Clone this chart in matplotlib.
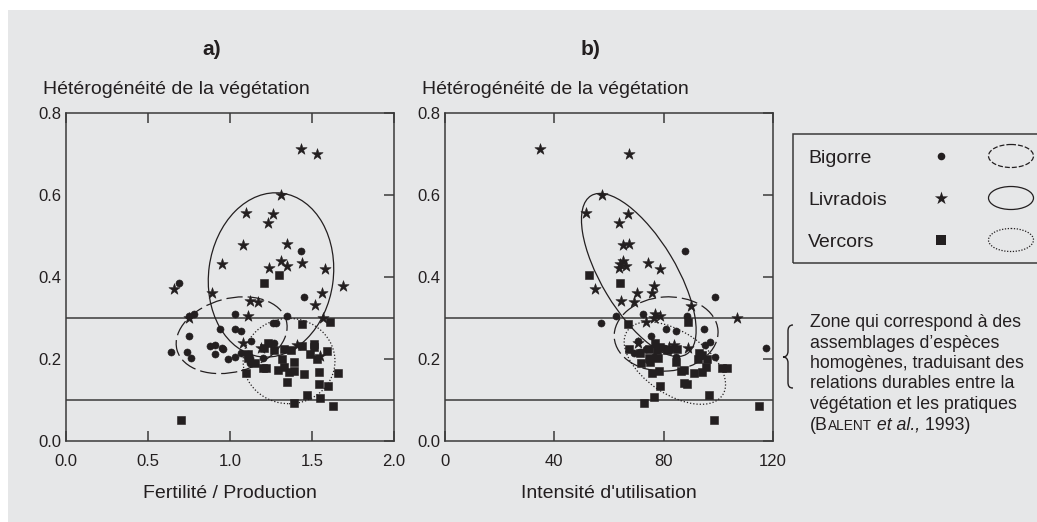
import matplotlib
matplotlib.use("Agg")
import matplotlib.pyplot as plt
from matplotlib.patches import Ellipse, Rectangle, PathPatch
from matplotlib.path import Path

plt.rcParams['font.family'] = ['Liberation Sans', 'DejaVu Sans']

W, H = 1037, 522
INK = '#231f20'
GRAY = '#e6e7e8'

# ---- panel a : Fertilité / Production ----
bx_a = [0.69, 1.43, 1.45, 0.78, 0.75, 1.03, 1.35, 0.94, 1.03, 1.07, 1.26, 1.28, 0.75, 1.13, 1.27,
        0.88, 0.91, 0.95, 0.96, 0.64, 0.74, 0.91, 1.07, 0.76, 0.99, 1.03, 1.11, 1.12, 1.20, 1.12]
by_a = [0.386, 0.464, 0.352, 0.310, 0.305, 0.310, 0.305, 0.274, 0.274, 0.268, 0.288, 0.288, 0.257, 0.244, 0.240,
        0.231, 0.233, 0.226, 0.225, 0.216, 0.218, 0.213, 0.215, 0.203, 0.199, 0.205, 0.212, 0.202, 0.203, 0.191]
lx_a = [1.43, 1.53, 1.31, 1.10, 1.26, 1.23, 1.08, 1.35, 0.95, 1.31, 1.44, 1.24, 1.35, 1.58,
        1.69, 0.66, 0.89, 1.56, 1.12, 1.17, 1.52, 1.11, 0.75, 1.57, 1.08, 1.19, 1.41, 1.55]
ly_a = [0.713, 0.699, 0.601, 0.556, 0.553, 0.531, 0.477, 0.481, 0.432, 0.439, 0.435, 0.421, 0.428, 0.420,
        0.378, 0.370, 0.362, 0.362, 0.342, 0.339, 0.331, 0.305, 0.301, 0.301, 0.238, 0.228, 0.235, 0.207]
vx_a = [1.30, 1.21, 1.61, 1.44, 1.23, 1.21, 1.27, 1.33, 1.37, 1.44, 1.51, 1.51, 1.59, 1.49, 1.53, 1.32, 1.11,
        1.11, 1.15, 1.39, 1.20, 1.22, 1.29, 1.33, 1.36, 1.39, 1.45, 1.54, 1.66, 1.10, 1.35, 1.54, 1.60, 1.47,
        1.55, 1.39, 1.63, 0.70]
vy_a = [0.404, 0.386, 0.291, 0.285, 0.240, 0.226, 0.223, 0.224, 0.223, 0.231, 0.237, 0.230, 0.220, 0.213, 0.199,
        0.200, 0.213, 0.203, 0.191, 0.192, 0.178, 0.178, 0.174, 0.180, 0.169, 0.170, 0.163, 0.169, 0.167, 0.166,
        0.143, 0.138, 0.134, 0.113, 0.106, 0.092, 0.086, 0.052]

# ---- panel b : Intensité d'utilisation ----
bx_b = [87.9, 98.8, 57.0, 62.6, 72.6, 88.6, 80.8, 84.5, 94.9, 75.3, 96.8, 95.2, 70.7, 73.6, 80.0, 82.4,
        84.4, 98.9, 117.6, 71.4, 75.3, 76.3, 69.2, 77.5, 74.8]
by_b = [0.464, 0.352, 0.288, 0.305, 0.310, 0.305, 0.274, 0.268, 0.274, 0.257, 0.241, 0.234, 0.244, 0.225,
        0.228, 0.222, 0.205, 0.204, 0.226, 0.216, 0.199, 0.205, 0.215, 0.230, 0.195]
lx_b = [34.6, 67.2, 57.4, 51.6, 67.0, 63.6, 65.3, 67.3, 74.1, 65.1, 64.1, 66.3, 63.7, 78.8, 54.7, 70.2,
        76.6, 75.7, 64.3, 69.0, 90.0, 106.8, 76.9, 78.5, 76.6, 73.6, 70.5, 83.6, 88.8, 81.9]
ly_b = [0.713, 0.699, 0.601, 0.556, 0.553, 0.531, 0.477, 0.481, 0.435, 0.439, 0.431, 0.428, 0.421, 0.420,
        0.370, 0.362, 0.378, 0.362, 0.342, 0.339, 0.329, 0.301, 0.310, 0.305, 0.299, 0.291, 0.238, 0.235,
        0.227, 0.230]
vx_b = [52.7, 63.9, 67.0, 88.8, 67.3, 71.2, 74.6, 76.9, 77.5, 78.8, 81.2, 84.9, 92.8, 94.0, 96.0, 92.4,
        74.8, 77.8, 71.8, 74.9, 84.6, 95.6, 101.2, 103.2, 75.6, 78.3, 86.4, 87.5, 91.0, 94.0, 87.4, 88.5,
        78.5, 96.5, 76.6, 72.8, 114.8, 98.3]
vy_b = [0.404, 0.386, 0.285, 0.291, 0.224, 0.215, 0.224, 0.240, 0.223, 0.230, 0.223, 0.224, 0.215, 0.209,
        0.200, 0.200, 0.203, 0.203, 0.191, 0.193, 0.192, 0.180, 0.178, 0.178, 0.166, 0.171, 0.170, 0.174,
        0.165, 0.169, 0.142, 0.138, 0.134, 0.113, 0.107, 0.092, 0.086, 0.052]

# ellipses: centre (data), width / height (axes fraction), angle (deg)
ell_a = {'Bigorre': (1.01, 0.258, 0.345, 0.224, 15),
         'Livradois': (1.25, 0.405, 0.38, 0.503, -7.7),
         'Vercors': (1.36, 0.195, 0.28, 0.26, 0)}
ell_b = {'Bigorre': (80.9, 0.261, 0.317, 0.226, 4),
         'Livradois': (70.9, 0.405, 0.564, 0.227, -59),
         'Vercors': (84.1, 0.190, 0.35, 0.19, -34)}

sites = ['Bigorre', 'Livradois', 'Vercors']
markers = {'Bigorre': ('o', 26), 'Livradois': ('*', 72), 'Vercors': ('s', 26)}
ell_style = {'Bigorre': (0, (13, 4)), 'Livradois': '-', 'Vercors': (0, (1, 1.6))}
ref_lines = [0.1, 0.3]

note = ["Zone qui correspond à des", "assemblages d\u2019espèces", "homogènes, traduisant des",
        "relations durables entre la", "végétation et les pratiques"]

fig = plt.figure(figsize=(W / 100, H / 100), dpi=100, facecolor='white')
fig.patches.append(Rectangle((8 / W, 0), 1, 1 - 10 / H, transform=fig.transFigure,
                             facecolor=GRAY, edgecolor='none', zorder=-10))


def fx(px):
    return px / W


def fy(py):
    return 1 - py / H


def make_panel(left, xlim, xticks, xticklabels, corner, data, ells, tag, xlabel):
    ax = fig.add_axes([fx(left), fy(441), 328 / W, 328 / H])
    ax.set_facecolor('none')
    ax.set_xlim(*xlim)
    ax.set_ylim(0, 0.8)
    for s in ax.spines.values():
        s.set_color('#3a3a3a')
        s.set_linewidth(1.1)
    ax.set_xticks(xticks)
    ax.set_xticklabels(xticklabels)
    ax.set_yticks([0, 0.2, 0.4, 0.6, 0.8])
    ax.set_yticklabels(['0.0', '0.2', '0.4', '0.6', '0.8'])
    ax.tick_params(which='major', direction='in', top=True, right=True, left=False,
                   length=7, width=1.1, color='#3a3a3a', labelsize=12, labelcolor=INK)
    ax.tick_params(axis='x', which='major', pad=9)
    ax.tick_params(axis='y', which='major', pad=3)
    # thick corner ticks at the origin
    ax.set_xticks([corner[0]], minor=True)
    ax.set_yticks([0], minor=True)
    ax.tick_params(which='minor', direction='in', length=9, width=2.4, color=INK,
                   bottom=True, top=False, left=(corner[1] == 'left'), right=(corner[1] == 'right'))

    for yv in ref_lines:
        ax.axhline(yv, color='#3a3a3a', lw=1.1, zorder=1)

    for site in sites:
        xs, ys = data[site]
        m, s = markers[site]
        ax.scatter(xs, ys, marker=m, s=s, color=INK, edgecolors=INK, linewidths=0.4,
                   zorder=3, clip_on=False)
        cx, cy, w, h, ang = ells[site]
        x0, x1 = ax.get_xlim()
        ex = (cx - x0) / (x1 - x0)
        ey = cy / 0.8
        ax.add_patch(Ellipse((ex, ey), w, h, angle=ang, transform=ax.transAxes, fill=False,
                             edgecolor=INK, lw=0.9, linestyle=ell_style[site], zorder=2))

    ax.text(0.445, 1 + 58 / 328, tag, transform=ax.transAxes, ha='center', va='baseline',
            fontsize=15, fontweight='bold', color=INK)
    ax.text(-23 / 328, 1 + 19 / 328, 'Hétérogénéité de la végétation', transform=ax.transAxes,
            ha='left', va='baseline', fontsize=14, color=INK)
    ax.text(0.5, -52 / 328, xlabel, transform=ax.transAxes, ha='center', va='center',
            fontsize=14, color=INK)
    return ax


data_a = {'Bigorre': (bx_a, by_a), 'Livradois': (lx_a, ly_a), 'Vercors': (vx_a, vy_a)}
data_b = {'Bigorre': (bx_b, by_b), 'Livradois': (lx_b, ly_b), 'Vercors': (vx_b, vy_b)}

make_panel(66, (0, 2.0), [0, 0.5, 1.0, 1.5, 2.0], ['0.0', '0.5', '1.0', '1.5', '2.0'],
           (0, 'left'), data_a, ell_a, 'a)', 'Fertilité / Production')
make_panel(445, (0, 120), [0, 40, 80, 120], ['0', '40', '80', '120'],
           (120, 'right'), data_b, ell_b, 'b)', "Intensité d'utilisation")

# ---- legend box ----
fig.patches.append(Rectangle((fx(793), fy(263)), fx(260), (263 - 134) / H, transform=fig.transFigure,
                             facecolor='none', edgecolor='#3a3a3a', lw=1.1))
leg_base = [163, 205, 247]
leg_ms = {'Bigorre': 30, 'Livradois': 100, 'Vercors': 50}
lax = fig.add_axes([0, 0, 1, 1], facecolor='none')
lax.set_xlim(0, W)
lax.set_ylim(H, 0)
lax.axis('off')
for site, yb in zip(sites, leg_base):
    fig.text(fx(808), fy(yb), site, ha='left', va='baseline', fontsize=14, color=INK)
    lax.scatter([941], [yb - 7], marker=markers[site][0], s=leg_ms[site], color=INK, linewidths=0)
    lax.add_patch(Ellipse((1011, yb - 7), 45, 23, fill=False, edgecolor=INK, lw=0.9,
                          linestyle=(0, (4, 1.6)) if site == 'Bigorre' else
                          ((0, (1, 1.3)) if site == 'Vercors' else '-')))

# ---- brace ----
verts = [(793, 325), (789, 325), (788, 328), (788, 331), (788, 351),
         (788, 355), (786, 357), (783, 357),
         (786, 357), (788, 359), (788, 363), (788, 382),
         (788, 386), (789, 388), (793, 388)]
codes = [Path.MOVETO, Path.CURVE4, Path.CURVE4, Path.CURVE4, Path.LINETO,
         Path.CURVE4, Path.CURVE4, Path.CURVE4,
         Path.CURVE4, Path.CURVE4, Path.CURVE4, Path.LINETO,
         Path.CURVE4, Path.CURVE4, Path.CURVE4]
lax.add_patch(PathPatch(Path(verts, codes), fill=False, edgecolor=INK, lw=1.0))

# ---- note ----
base0 = 327
step = 20.5
for i, line in enumerate(note):
    fig.text(fx(810), fy(base0 + i * step), line, ha='left', va='baseline', fontsize=12.8, color=INK)

renderer = fig.canvas.get_renderer()
pieces = [('(B', 12.8, 'normal'), ('ALENT', 9.8, 'normal'), (' et al.,', 12.8, 'italic'), (' 1993)', 12.8, 'normal')]
xpos = 810
yb = base0 + 5 * step
for s, size, style in pieces:
    t = fig.text(fx(xpos), fy(yb), s, ha='left', va='baseline', fontsize=size, style=style, color=INK)
    xpos += t.get_window_extent(renderer).width

fig.savefig('out.png', dpi=100, facecolor='white')
